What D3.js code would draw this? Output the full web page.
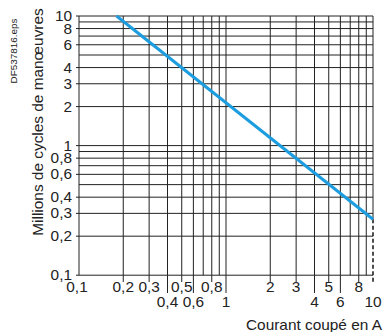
<!DOCTYPE html>
<html>
<head>
<meta charset="utf-8">
<script src="https://cdn.jsdelivr.net/npm/d3@7"></script>
<style>
  html, body { margin: 0; padding: 0; background: #fff; }
  svg { display: block; }
  text { font-family: "Liberation Sans", Arial, Helvetica, sans-serif; fill: #222; }
</style>
</head>
<body>
<svg id="chart" width="384" height="332"></svg>
<script>
// Endurance curve: switching current (A) vs. millions of operating cycles
const currentA = [0.18, 10];
const millionCycles = [10, 0.27];

// Grid values (both axes are log, one decade 0.1 → 1 → 10)
const gridValues = [0.1, 0.2, 0.3, 0.4, 0.5, 0.6, 0.7, 0.8, 0.9, 1, 2, 3, 4, 5, 6, 7, 8, 9, 10];

// Y tick labels
const yTicks = [10, 8, 6, 4, 3, 2, 1, 0.8, 0.6, 0.4, 0.3, 0.2, 0.1];
// X tick labels, split on two staggered rows
const xTicksUpper = [0.1, 0.2, 0.3, 0.5, 0.8, 2, 3, 5, 8];
const xTicksLower = [0.4, 0.6, 1, 4, 6, 10];

const fmt = v => String(v).replace(".", ",");
const stretch = 1.1;

const svg = d3.select("#chart");
const x = d3.scaleLog().domain([0.1, 10]).range([79, 373]);
const y = d3.scaleLog().domain([0.1, 10]).range([275.2, 16]);

const ink = "#222";
const endY = y(millionCycles[1]);

// horizontal grid
svg.append("g").selectAll("line").data(gridValues).join("line")
  .attr("x1", x(0.1)).attr("x2", x(10))
  .attr("y1", d => y(d)).attr("y2", d => y(d))
  .attr("stroke", ink).attr("stroke-width", 1);

// y tick stubs
svg.append("g").selectAll("line").data(yTicks).join("line")
  .attr("x1", x(0.1) - 3).attr("x2", x(0.1))
  .attr("y1", d => y(d)).attr("y2", d => y(d))
  .attr("stroke", ink).attr("stroke-width", 1);

// vertical grid (the 10 A line is solid only above the curve end)
svg.append("g").selectAll("line").data(gridValues.filter(v => v < 10)).join("line")
  .attr("x1", d => x(d)).attr("x2", d => x(d))
  .attr("y1", y(10)).attr("y2", y(0.1))
  .attr("stroke", ink).attr("stroke-width", 1);
svg.append("line")
  .attr("x1", x(10)).attr("x2", x(10))
  .attr("y1", y(10)).attr("y2", endY)
  .attr("stroke", ink).attr("stroke-width", 1);
svg.append("line")
  .attr("x1", x(10)).attr("x2", x(10))
  .attr("y1", endY).attr("y2", 283)
  .attr("stroke", ink).attr("stroke-width", 1.6)
  .attr("stroke-dasharray", "4,2.5");

// x tick extensions below the axis
svg.append("g").selectAll("line").data(xTicksUpper.filter(v => v > 0.1)).join("line")
  .attr("x1", d => x(d)).attr("x2", d => x(d))
  .attr("y1", y(0.1)).attr("y2", 282)
  .attr("stroke", ink).attr("stroke-width", 1);
svg.append("g").selectAll("line").data(xTicksLower.filter(v => v < 10)).join("line")
  .attr("x1", d => x(d)).attr("x2", d => x(d))
  .attr("y1", y(0.1)).attr("y2", 293)
  .attr("stroke", ink).attr("stroke-width", 1);

// curve
svg.append("path")
  .datum(currentA.map((c, i) => [c, millionCycles[i]]))
  .attr("d", d3.line().x(d => x(d[0])).y(d => y(d[1])))
  .attr("fill", "none").attr("stroke", "#1c9ddf").attr("stroke-width", 3);

// text helper: slightly widened Helvetica-like lettering
function label(tx, ty, str, size, anchor, rot) {
  svg.append("text")
    .attr("transform", `translate(${tx},${ty}) rotate(${rot || 0}) scale(${stretch},1)`)
    .attr("text-anchor", anchor)
    .attr("font-size", size)
    .text(str);
}

yTicks.forEach(v => label(72, y(v) + 5, fmt(v), 14, "end"));
xTicksUpper.forEach(v => label(v === 0.1 ? x(v) - 2 : x(v), 292, fmt(v), 14, "middle"));
xTicksLower.forEach(v => label(x(v), 307, fmt(v), 14, "middle"));

label(382, 330, "Courant coupé en A", 14, "end");
label(43, 122, "Millions de cycles de manœuvres", 14, "middle", -90);
label(17, 51, "DF537816.eps", 9, "middle", -90);
</script>
</body>
</html>
